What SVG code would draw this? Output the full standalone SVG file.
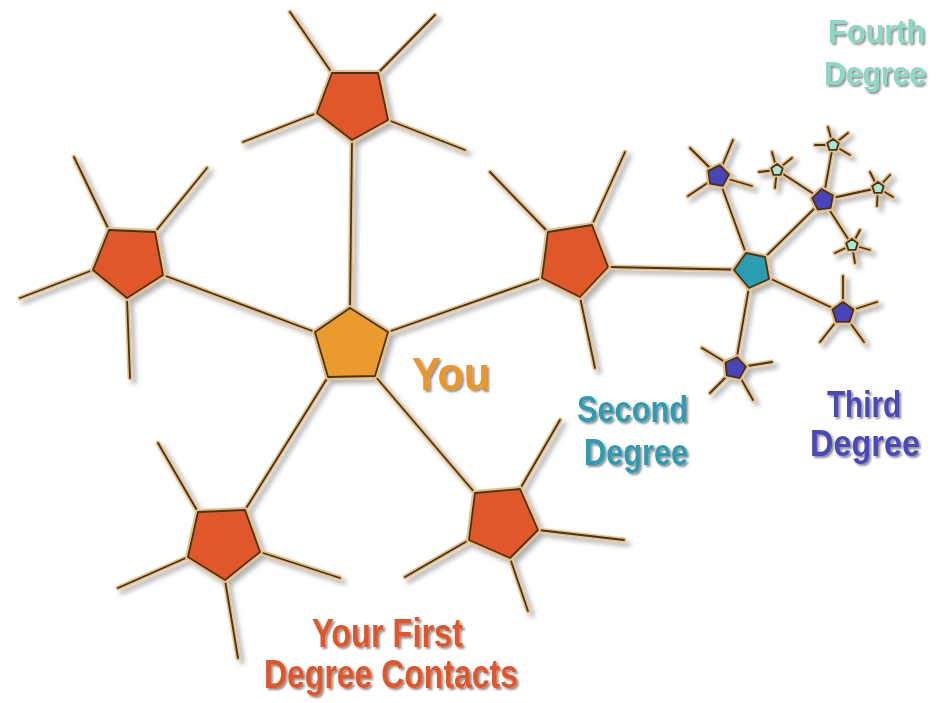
<svg xmlns="http://www.w3.org/2000/svg" xmlns:xlink="http://www.w3.org/1999/xlink" width="941" height="703" viewBox="0 0 941 703">
<defs>
<style>
.halo{stroke:#e6c08a;stroke-width:5;stroke-linecap:round;fill:none}
.core{stroke:#4a3214;stroke-width:1.8;stroke-linecap:round;fill:none}
.nc{fill:none;stroke:#4a3214;stroke-width:1.8;stroke-linejoin:round}
.first,.you,.second,.third,.fourth{stroke:#e6c08a;stroke-width:6;stroke-linejoin:round;paint-order:stroke}
.first{fill:#e0582c}
.you{fill:#eb9a2e}
.second{fill:#2b9db3}
.third{fill:#4a44b8}
.fourth{fill:#a6e6d6;stroke-width:5}
.lbl{font-family:"Liberation Sans Narrow","Liberation Sans",Arial,sans-serif;font-weight:bold;filter:url(#tsh)}
</style>
<filter id="sh" x="-10%" y="-10%" width="120%" height="120%">
<feDropShadow dx="4" dy="4" stdDeviation="2.5" flood-color="#000" flood-opacity="0.3"/>
</filter>
<filter id="tsh" x="-10%" y="-10%" width="120%" height="130%">
<feDropShadow dx="2" dy="2" stdDeviation="1.2" flood-color="#000" flood-opacity="0.45"/>
</filter>
<polygon id="p10" points="0,-11 10.46,-3.4 6.47,8.9 -6.47,8.9 -10.46,-3.4"/>
<polygon id="p6" points="0,-6 5.7,-1.85 3.53,4.85 -3.53,4.85 -5.7,-1.85"/>
</defs>
<rect width="941" height="703" fill="#fff"/>
<g filter="url(#sh)">
<g id="connectors">
<g class="halo"><g id="E">
<line x1="163" y1="275" x2="315" y2="332"/>
<line x1="352" y1="140" x2="350" y2="308"/>
<line x1="542" y1="278" x2="388" y2="332"/>
<line x1="475" y1="493" x2="375" y2="376"/>
<line x1="245" y1="510" x2="328" y2="377"/>
<line x1="332" y1="73" x2="290" y2="12"/>
<line x1="378" y1="73" x2="435" y2="15"/>
<line x1="317" y1="113" x2="243" y2="142"/>
<line x1="388" y1="120" x2="465" y2="150"/>
<line x1="109" y1="230" x2="74" y2="157"/>
<line x1="155" y1="232" x2="207" y2="168"/>
<line x1="93" y1="270" x2="20" y2="298"/>
<line x1="127" y1="298" x2="130" y2="378"/>
<line x1="548" y1="232" x2="490" y2="172"/>
<line x1="592" y1="225" x2="625" y2="152"/>
<line x1="608" y1="267" x2="752" y2="270"/>
<line x1="580" y1="297" x2="595" y2="368"/>
<line x1="198" y1="512" x2="158" y2="443"/>
<line x1="188" y1="557" x2="118" y2="588"/>
<line x1="225" y1="580" x2="238" y2="658"/>
<line x1="260" y1="552" x2="340" y2="578"/>
<line x1="520" y1="489" x2="560" y2="420"/>
<line x1="538" y1="530" x2="624" y2="540"/>
<line x1="510" y1="558" x2="528" y2="611"/>
<line x1="469" y1="540" x2="405" y2="577"/>
<line x1="752" y1="270" x2="718" y2="176"/>
<line x1="752" y1="270" x2="823" y2="200"/>
<line x1="752" y1="270" x2="843" y2="313"/>
<line x1="752" y1="270" x2="735" y2="368"/>
<line x1="718" y1="176" x2="690" y2="148"/>
<line x1="718" y1="176" x2="733" y2="140"/>
<line x1="718" y1="176" x2="752" y2="186"/>
<line x1="718" y1="176" x2="688" y2="196"/>
<line x1="823" y1="200" x2="777" y2="170"/>
<line x1="823" y1="200" x2="833" y2="145"/>
<line x1="823" y1="200" x2="878" y2="188"/>
<line x1="823" y1="200" x2="852" y2="245"/>
<line x1="843" y1="313" x2="843" y2="276"/>
<line x1="843" y1="313" x2="877" y2="302"/>
<line x1="843" y1="313" x2="864" y2="342"/>
<line x1="843" y1="313" x2="820" y2="342"/>
<line x1="735" y1="368" x2="702" y2="348"/>
<line x1="735" y1="368" x2="772" y2="362"/>
<line x1="735" y1="368" x2="753" y2="400"/>
<line x1="735" y1="368" x2="710" y2="393"/>
<line x1="777" y1="170" x2="759" y2="172"/>
<line x1="777" y1="170" x2="772" y2="152"/>
<line x1="777" y1="170" x2="792" y2="158"/>
<line x1="777" y1="170" x2="775" y2="188"/>
<line x1="833" y1="145" x2="815" y2="145"/>
<line x1="833" y1="145" x2="828" y2="127"/>
<line x1="833" y1="145" x2="848" y2="133"/>
<line x1="833" y1="145" x2="850" y2="155"/>
<line x1="878" y1="188" x2="870" y2="172"/>
<line x1="878" y1="188" x2="890" y2="175"/>
<line x1="878" y1="188" x2="893" y2="197"/>
<line x1="878" y1="188" x2="877" y2="206"/>
<line x1="852" y1="245" x2="860" y2="230"/>
<line x1="852" y1="245" x2="870" y2="250"/>
<line x1="852" y1="245" x2="855" y2="263"/>
<line x1="852" y1="245" x2="835" y2="253"/>
</g></g>
<g class="core"><use href="#E" xlink:href="#E"/></g>
</g>
<g id="you"><polygon class="you" points="350,308 388,332 375,376 328,377 315,332"/></g>
<g id="first-top"><polygon class="first" points="332,73 378,73 388,120 352,140 317,113"/></g>
<g id="first-left"><polygon class="first" points="109,230 155,232 163,275 127,298 93,270"/></g>
<g id="first-right"><polygon class="first" points="548,232 592,225 608,267 580,297 542,278"/></g>
<g id="first-bottom-left"><polygon class="first" points="198,512 245,510 260,552 225,580 188,557"/></g>
<g id="first-bottom-right"><polygon class="first" points="475,493 520,489 538,530 510,558 469,540"/></g>
<g id="second"><polygon class="second" points="734,270 746,253 765,257 769,279 749,288"/></g>
<g id="third-a"><use href="#p10" xlink:href="#p10" class="third" transform="translate(718,176) rotate(10)"/></g>
<g id="third-b"><use href="#p10" xlink:href="#p10" class="third" transform="translate(823,200) rotate(-8)"/></g>
<g id="third-c"><use href="#p10" xlink:href="#p10" class="third" transform="translate(843,313)"/></g>
<g id="third-d"><use href="#p10" xlink:href="#p10" class="third" transform="translate(735,368) rotate(12)"/></g>
<g id="fourth-a"><use href="#p6" xlink:href="#p6" class="fourth" transform="translate(777,170)"/></g>
<g id="fourth-b"><use href="#p6" xlink:href="#p6" class="fourth" transform="translate(833,145)"/></g>
<g id="fourth-c"><use href="#p6" xlink:href="#p6" class="fourth" transform="translate(878,188)"/></g>
<g id="fourth-d"><use href="#p6" xlink:href="#p6" class="fourth" transform="translate(852,245)"/></g>
</g>
<g id="outlines" class="nc">
<polygon points="350,308 388,332 375,376 328,377 315,332"/>
<polygon points="332,73 378,73 388,120 352,140 317,113"/>
<polygon points="109,230 155,232 163,275 127,298 93,270"/>
<polygon points="548,232 592,225 608,267 580,297 542,278"/>
<polygon points="198,512 245,510 260,552 225,580 188,557"/>
<polygon points="475,493 520,489 538,530 510,558 469,540"/>
<polygon points="734,270 746,253 765,257 769,279 749,288"/>
<use href="#p10" xlink:href="#p10" transform="translate(718,176) rotate(10)"/>
<use href="#p10" xlink:href="#p10" transform="translate(823,200) rotate(-8)"/>
<use href="#p10" xlink:href="#p10" transform="translate(843,313)"/>
<use href="#p10" xlink:href="#p10" transform="translate(735,368) rotate(12)"/>
<use href="#p6" xlink:href="#p6" transform="translate(777,170)"/>
<use href="#p6" xlink:href="#p6" transform="translate(833,145)"/>
<use href="#p6" xlink:href="#p6" transform="translate(878,188)"/>
<use href="#p6" xlink:href="#p6" transform="translate(852,245)"/>
</g>
<g id="labels">
<text class="lbl" x="412" y="390" font-size="46" fill="#eb962c" textLength="78" lengthAdjust="spacingAndGlyphs">You</text>
<text class="lbl" x="577" y="422" font-size="37" fill="#2e9bb2" textLength="111" lengthAdjust="spacingAndGlyphs">Second</text>
<text class="lbl" x="584" y="465" font-size="37" fill="#2e9bb2" textLength="104" lengthAdjust="spacingAndGlyphs">Degree</text>
<text class="lbl" x="827" y="417" font-size="37" fill="#4b48b8" textLength="74" lengthAdjust="spacingAndGlyphs">Third</text>
<text class="lbl" x="810" y="456" font-size="37" fill="#4b48b8" textLength="110" lengthAdjust="spacingAndGlyphs">Degree</text>
<text class="lbl" x="828" y="43" font-size="34" fill="#8cd8c6" textLength="97" lengthAdjust="spacingAndGlyphs">Fourth</text>
<text class="lbl" x="824" y="85" font-size="34" fill="#8cd8c6" textLength="102" lengthAdjust="spacingAndGlyphs">Degree</text>
<text class="lbl" x="312" y="647" font-size="40" fill="#e0572c" textLength="151" lengthAdjust="spacingAndGlyphs">Your First</text>
<text class="lbl" x="264" y="688" font-size="41" fill="#e0572c" textLength="254" lengthAdjust="spacingAndGlyphs">Degree Contacts</text>
</g>
</svg>
